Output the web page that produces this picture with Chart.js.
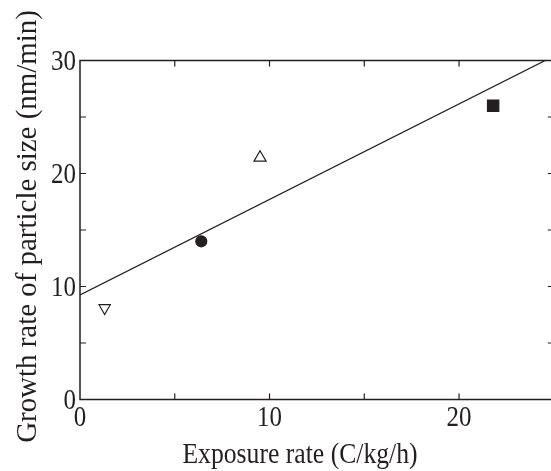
<!DOCTYPE html>
<html>
<head>
<meta charset="utf-8">
<script src="https://cdn.jsdelivr.net/npm/chart.js@4"></script>
<style>
  html, body { margin: 0; padding: 0; background: #fff; overflow: hidden; }
  canvas { display: block; }
</style>
</head>
<body>
<canvas id="myChart" width="563" height="471"></canvas>
<script>
// Data
const pointX = [1.3, 6.4, 9.5, 21.8];
const pointY = [8.1, 14.0, 21.4, 26.0];
const pointShapes = ['triangle', 'circle', 'triangle', 'rect'];
const pointTurns = [180, 0, 0, 0];
const pointFilled = [false, true, false, true];

// fitted line, drawn between where it enters and leaves the frame
const fitX = [0, 24.55];
const fitY = [9.25, 30];

const xLabels = [0, 10, 20];
const yLabels = [0, 10, 20, 30];

const xTitle = 'Exposure rate (C/kg/h)';
const yTitle = 'Growth rate of particle size (nm/min)';

const ink = '#231f20';
const font = '"Liberation Serif", "Times New Roman", serif';

// the figure's type is a little narrower than Times, so text is drawn here
function squeezed(ctx, text, x, y, size, sx, align, base) {
  ctx.save();
  ctx.font = size + 'px ' + font;
  ctx.textAlign = align;
  ctx.textBaseline = base;
  ctx.translate(x, y);
  ctx.scale(sx, 1);
  ctx.fillText(text, 0, 0);
  ctx.restore();
}

// frame, inward ticks on all four sides, tick labels and the two axis titles
const framePlugin = {
  id: 'frame',
  afterDatasetsDraw(chart) {
    const { ctx, chartArea: a, scales: { x, y } } = chart;
    ctx.save();
    ctx.strokeStyle = ink;
    ctx.lineWidth = 1.5;
    ctx.strokeRect(a.left, a.top, a.right - a.left, a.bottom - a.top);
    ctx.lineWidth = 1.2;
    ctx.beginPath();
    for (let v = 5; v < 25; v += 5) {
      const px = x.getPixelForValue(v);
      ctx.moveTo(px, a.bottom); ctx.lineTo(px, a.bottom - 6);
      ctx.moveTo(px, a.top); ctx.lineTo(px, a.top + 6);
    }
    for (let v = 5; v < 30; v += 5) {
      const py = y.getPixelForValue(v);
      ctx.moveTo(a.left, py); ctx.lineTo(a.left + 6, py);
      ctx.moveTo(a.right, py); ctx.lineTo(a.right - 6, py);
    }
    ctx.stroke();

    ctx.fillStyle = ink;
    xLabels.forEach(v => squeezed(ctx, String(v), x.getPixelForValue(v), a.bottom + 26.5, 29, 0.86, 'center', 'alphabetic'));
    yLabels.forEach(v => squeezed(ctx, String(v), a.left - 4, y.getPixelForValue(v) + 9.5, 29, 0.86, 'right', 'alphabetic'));

    squeezed(ctx, xTitle, 300, 463, 29, 0.885, 'center', 'alphabetic');
    ctx.translate(36, 226.5);
    ctx.rotate(-Math.PI / 2);
    squeezed(ctx, yTitle, 0, 0, 29.5, 0.98, 'center', 'alphabetic');
    ctx.restore();
  }
};

new Chart(document.getElementById('myChart'), {
  type: 'scatter',
  data: {
    datasets: [{
      type: 'line',
      data: fitX.map((v, i) => ({ x: v, y: fitY[i] })),
      borderColor: ink,
      borderWidth: 1.3,
      pointRadius: 0,
      fill: false,
      tension: 0
    }, {
      data: pointX.map((v, i) => ({ x: v, y: pointY[i] })),
      pointStyle: pointShapes,
      rotation: pointTurns,
      pointRadius: [6.5, 5.5, 7, 8],
      pointBorderWidth: 1.2,
      pointBorderColor: ink,
      pointBackgroundColor: pointFilled.map(f => f ? ink : 'rgba(0,0,0,0)')
    }]
  },
  options: {
    responsive: false,
    animation: false,
    layout: { padding: { left: 30, right: 4, top: 60.5, bottom: 31.5 } },
    plugins: { legend: { display: false }, tooltip: { enabled: false } },
    scales: {
      x: {
        type: 'linear',
        min: 0, max: 25,
        afterFit: s => { s.height = 40; },
        afterBuildTicks: s => { s.ticks = xLabels.map(v => ({ value: v })); },
        grid: { display: false },
        border: { display: false },
        ticks: { display: false }
      },
      y: {
        type: 'linear',
        min: 0, max: 30,
        afterFit: s => { s.width = 50; },
        afterBuildTicks: s => { s.ticks = yLabels.map(v => ({ value: v })); },
        grid: { display: false },
        border: { display: false },
        ticks: { display: false }
      }
    }
  },
  plugins: [framePlugin]
});
</script>
</body>
</html>
